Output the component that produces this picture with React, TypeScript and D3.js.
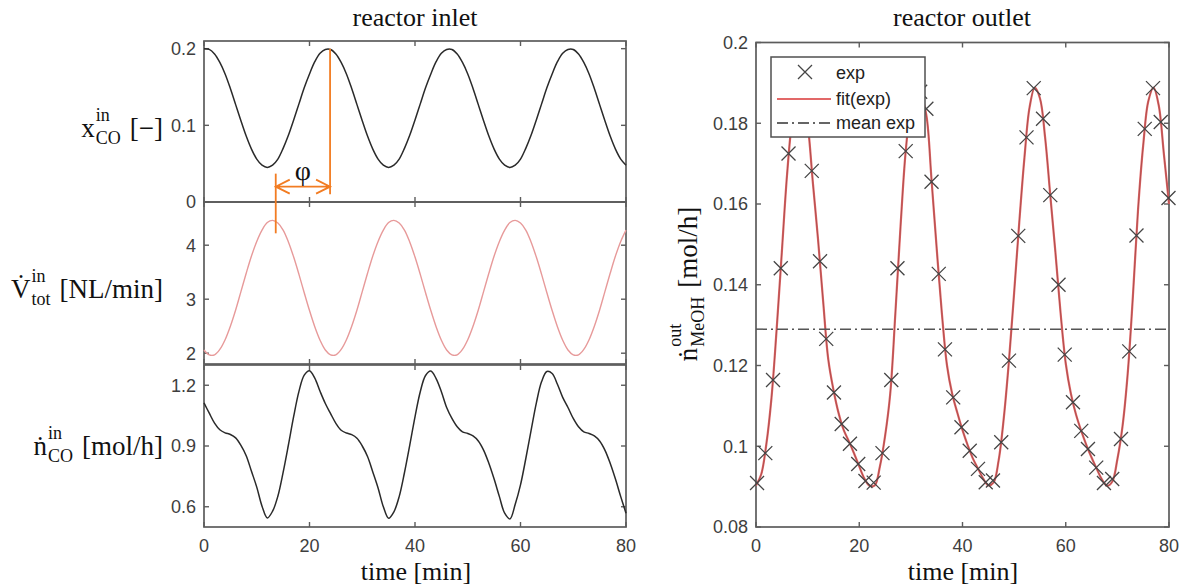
import { useEffect, useRef } from "react";
import * as d3 from "d3";

// sample grid of the inlet signals and of the fitted outlet curve [min]
const minutes = [
  0, 1, 2, 3, 4, 5, 6, 7, 8, 9, 10, 11, 12, 13, 14, 15, 16, 17, 18, 19, 20,
  21, 22, 23, 24, 25, 26, 27, 28, 29, 30, 31, 32, 33, 34, 35, 36, 37, 38, 39, 40,
  41, 42, 43, 44, 45, 46, 47, 48, 49, 50, 51, 52, 53, 54, 55, 56, 57, 58, 59, 60,
  61, 62, 63, 64, 65, 66, 67, 68, 69, 70, 71, 72, 73, 74, 75, 76, 77, 78, 79, 80,
];

// x_CO^in [-]
const xCOin = [
  0.2, 0.199, 0.193, 0.182, 0.167, 0.148, 0.127, 0.106, 0.086, 0.069, 0.056, 0.048,
  0.045, 0.048, 0.056, 0.07, 0.087, 0.107, 0.128, 0.149, 0.167, 0.183, 0.194, 0.199,
  0.199, 0.193, 0.182, 0.167, 0.148, 0.127, 0.106, 0.086, 0.069, 0.056, 0.048, 0.045,
  0.048, 0.056, 0.07, 0.087, 0.107, 0.128, 0.149, 0.167, 0.183, 0.194, 0.199,
  0.199, 0.193, 0.182, 0.167, 0.148, 0.127, 0.106, 0.086, 0.069, 0.056, 0.048, 0.045,
  0.048, 0.056, 0.07, 0.087, 0.107, 0.128, 0.149, 0.167, 0.183, 0.194, 0.199,
  0.199, 0.193, 0.182, 0.167, 0.148, 0.127, 0.106, 0.086, 0.069, 0.056, 0.048,
];

// V_tot^in [NL/min]
const vTotIn = [
  2.06, 1.97,
  1.97, 2.07, 2.25, 2.5, 2.8, 3.14, 3.48, 3.8, 4.07, 4.28, 4.42, 4.46, 4.41, 4.28,
  4.06, 3.78, 3.46, 3.12, 2.79, 2.49, 2.24, 2.06, 1.97,
  1.97, 2.07, 2.25, 2.5, 2.8, 3.14, 3.48, 3.8, 4.07, 4.28, 4.42, 4.46, 4.41, 4.28,
  4.06, 3.78, 3.46, 3.12, 2.79, 2.49, 2.24, 2.06, 1.97,
  1.97, 2.07, 2.25, 2.5, 2.8, 3.14, 3.48, 3.8, 4.07, 4.28, 4.42, 4.46, 4.41, 4.28,
  4.06, 3.78, 3.46, 3.12, 2.79, 2.49, 2.24, 2.06, 1.97,
  1.97, 2.07, 2.25, 2.5, 2.8, 3.14, 3.48, 3.8, 4.07, 4.28,
];

// n_CO^in [mol/h]
const nCOin = [
  1.113, 1.062, 1.013, 0.98, 0.965, 0.957, 0.94, 0.903, 0.852, 0.775, 0.697, 0.603,
  0.545, 0.578, 0.652, 0.77, 0.905, 1.046, 1.17, 1.25, 1.272, 1.235, 1.17,
  1.11, 1.06, 1.012, 0.978, 0.964, 0.956, 0.938, 0.9, 0.848, 0.772, 0.693, 0.6,
  0.543, 0.575, 0.65, 0.768, 0.903, 1.044, 1.168, 1.248, 1.27, 1.233, 1.168,
  1.09, 1.036, 0.995, 0.97, 0.962, 0.95, 0.925, 0.88, 0.815, 0.737, 0.65, 0.568,
  0.54, 0.612, 0.708, 0.837, 0.976, 1.112, 1.218, 1.268, 1.258, 1.205, 1.14,
  1.09, 1.036, 0.995, 0.97, 0.962, 0.95, 0.925, 0.88, 0.815, 0.737, 0.65, 0.568,
];

// fit(exp), n_MeOH^out [mol/h]
const fitOut = [
  0.0903, 0.093, 0.1005, 0.112, 0.129, 0.148, 0.167, 0.1808, 0.188, 0.1878, 0.18,
  0.1655, 0.1515, 0.136, 0.1215, 0.114, 0.1082, 0.104, 0.1012, 0.0982, 0.095, 0.092,
  0.0902,
  0.0903, 0.095, 0.1025, 0.113, 0.133, 0.1545, 0.1731, 0.184, 0.1886, 0.1868, 0.182,
  0.166, 0.149, 0.133, 0.12, 0.113, 0.1083, 0.104, 0.1003, 0.097, 0.0945, 0.092,
  0.0903,
  0.091, 0.0965, 0.107, 0.1212, 0.138, 0.1555, 0.1715, 0.184, 0.1888, 0.1862, 0.1765,
  0.1622, 0.148, 0.133, 0.1205, 0.113, 0.1078, 0.1038, 0.1003, 0.0972, 0.0944, 0.0918,
  0.0902,
  0.0912, 0.0968, 0.105, 0.118, 0.137, 0.1585, 0.1745, 0.1855, 0.1888, 0.1845, 0.1725,
  0.16,
];

// exp markers
const expTime = [
  0.2, 1.8, 3.3, 4.8, 6.3, 7.8, 9.3, 10.8, 12.4, 13.6, 15.1, 16.6, 18.2, 19.8, 21.2,
  22.8, 24.5, 26.2, 27.4, 29.0, 30.4, 31.8, 33.0, 34.0, 35.4, 36.6, 38.2, 39.8, 41.4,
  43.0, 44.5, 45.9, 47.5, 49.0, 50.8, 52.4, 53.8, 55.6, 57.0, 58.6, 59.8, 61.4, 63.0,
  64.3, 65.9, 67.4, 69.0, 70.7, 72.3, 73.7, 75.3, 76.9, 78.4, 79.9,
];
const expValue = [
  0.0909, 0.0983, 0.1164, 0.1441, 0.1725, 0.1868, 0.1872, 0.1682, 0.1458, 0.1266,
  0.1133, 0.1055, 0.1006, 0.0956, 0.0914, 0.091, 0.0983, 0.1164, 0.1441, 0.1731,
  0.1862, 0.1878, 0.1836, 0.1655, 0.1427, 0.124, 0.1121, 0.1047, 0.0989, 0.0944,
  0.0911, 0.0915, 0.101, 0.1212, 0.1521, 0.1765, 0.1887, 0.1811, 0.1622, 0.14,
  0.1227, 0.1109, 0.1038, 0.0993, 0.0947, 0.0909, 0.0919, 0.1018, 0.1235, 0.1522,
  0.1786, 0.1887, 0.1803, 0.1615,
];
const meanExp = 0.129;

// phase shift annotation (times in min)
const phiFrom = 13.6;
const phiTo = 23.9;

const timeTicks = [0, 20, 40, 60, 80];
const xcoTicks = [0, 0.1, 0.2];
const vTicks = [2, 3, 4];
const nTicks = [0.6, 0.9, 1.2];
const outTicks = [0.08, 0.1, 0.12, 0.14, 0.16, 0.18, 0.2];

const SERIF = "'Liberation Serif', 'Times New Roman', serif";
const SANS = "'Liberation Sans', Arial, sans-serif";
const AXIS = "#5c5c5c";
const TICKTXT = "#3e3e3e";
const ORANGE = "#f27c22";
const FITRED = "#e26868";

const App = () => {
  const ref = useRef<SVGSVGElement>(null);

  useEffect(() => {
    const svg = d3.select(ref.current);
    svg.selectAll("*").remove();

    // scales
    const xl = d3.scaleLinear([0, 80], [204, 626]);
    const y1 = d3.scaleLinear([0, 0.21], [202, 41]);
    const y2 = d3.scaleLinear([1.8, 4.8], [364, 202]);
    const y3 = d3.scaleLinear([0.5, 1.3], [527, 365]);
    const xr = d3.scaleLinear([0, 80], [756, 1169]);
    const yr = d3.scaleLinear([0.08, 0.2], [527, 42.5]);

    const frame = (x: any, y: any, yTicks: number[], xLabels: boolean) => {
      const [x0, x1] = x.range();
      const [yb, yt] = y.range();
      const g = svg.append("g");
      g.append("rect")
        .attr("x", x0).attr("y", yt)
        .attr("width", x1 - x0).attr("height", yb - yt)
        .attr("fill", "none").attr("stroke", AXIS).attr("stroke-width", 1.7);
      timeTicks.forEach((t) => {
        g.append("line").attr("x1", x(t)).attr("x2", x(t)).attr("y1", yb).attr("y2", yb - 5)
          .attr("stroke", AXIS).attr("stroke-width", 1.4);
        g.append("line").attr("x1", x(t)).attr("x2", x(t)).attr("y1", yt).attr("y2", yt + 5)
          .attr("stroke", AXIS).attr("stroke-width", 1.4);
        if (xLabels)
          g.append("text").attr("x", x(t)).attr("y", yb + 25)
            .attr("text-anchor", "middle").attr("font-family", SANS).attr("font-size", 18)
            .attr("fill", TICKTXT).text(String(t));
      });
      yTicks.forEach((v) => {
        g.append("line").attr("x1", x0).attr("x2", x0 + 5).attr("y1", y(v)).attr("y2", y(v))
          .attr("stroke", AXIS).attr("stroke-width", 1.4);
        g.append("line").attr("x1", x1).attr("x2", x1 - 5).attr("y1", y(v)).attr("y2", y(v))
          .attr("stroke", AXIS).attr("stroke-width", 1.4);
        g.append("text").attr("x", x0 - 8).attr("y", y(v)).attr("dy", "0.36em")
          .attr("text-anchor", "end").attr("font-family", SANS).attr("font-size", 18)
          .attr("fill", TICKTXT).text(String(v));
      });
    };

    const curve = (x: any, y: any, ts: number[], vs: number[], color: string, w: number) => {
      const line = d3.line<number>()
        .x((_, i) => x(ts[i]))
        .y((d) => y(d))
        .curve(d3.curveCatmullRom);
      svg.append("path").attr("d", line(vs)).attr("fill", "none")
        .attr("stroke", color).attr("stroke-width", w).attr("stroke-linejoin", "round");
    };

    const mathLabel = (base: string, sup: string, sub: string, rest: string, place: (w: number) => string) => {
      const g = svg.append("g").attr("font-family", SERIF).attr("fill", "#111");
      const b = g.append("text").attr("font-size", 27).text(base);
      const wb = (b.node() as SVGTextElement).getComputedTextLength();
      const sp = g.append("text").attr("font-size", 18).attr("x", wb + 1).attr("y", -16).text(sup);
      const sb = g.append("text").attr("font-size", 18).attr("x", wb + 1).attr("y", 7).text(sub);
      const ws = Math.max(
        (sp.node() as SVGTextElement).getComputedTextLength(),
        (sb.node() as SVGTextElement).getComputedTextLength()
      );
      const rx = wb + 1 + ws + 9;
      const r = g.append("text").attr("font-size", 27).attr("x", rx).text(rest);
      const total = rx + (r.node() as SVGTextElement).getComputedTextLength();
      g.attr("transform", place(total));
    };

    // ---- left: reactor inlet ----
    frame(xl, y1, xcoTicks, false);
    frame(xl, y2, vTicks, false);
    frame(xl, y3, nTicks, true);

    curve(xl, y1, minutes, xCOin, "#2a2a2a", 1.5);
    curve(xl, y2, minutes, vTotIn, "#e79a9a", 1.4);
    curve(xl, y3, minutes, nCOin, "#2a2a2a", 1.5);

    // phase shift marks
    const ax = xl(phiFrom);
    const bx = xl(phiTo);
    const ay = y1(0.02);
    svg.append("line").attr("x1", bx).attr("x2", bx).attr("y1", y1(0.2)).attr("y2", y1(0.01))
      .attr("stroke", ORANGE).attr("stroke-width", 1.8);
    svg.append("line").attr("x1", ax).attr("x2", ax).attr("y1", y1(0.037)).attr("y2", y2(4.22))
      .attr("stroke", ORANGE).attr("stroke-width", 1.8);
    svg.append("path")
      .attr("d", `M${ax},${ay}H${bx}M${ax + 14},${ay - 7}L${ax},${ay}L${ax + 14},${ay + 7}` +
        `M${bx - 14},${ay - 7}L${bx},${ay}L${bx - 14},${ay + 7}`)
      .attr("fill", "none").attr("stroke", ORANGE).attr("stroke-width", 1.8);
    svg.append("text").attr("x", (ax + bx) / 2).attr("y", ay - 7).attr("text-anchor", "middle")
      .attr("font-family", SERIF).attr("font-size", 28).attr("fill", "#111").text("φ");

    mathLabel("x", "in", "CO", "[−]", (w) => `translate(${163 - w},137)`);
    mathLabel("V\u0307", "in", "tot", "[NL/min]", (w) => `translate(${163 - w},298)`);
    mathLabel("n\u0307", "in", "CO", "[mol/h]", (w) => `translate(${163 - w},455)`);

    svg.append("text").attr("x", 415).attr("y", 26).attr("text-anchor", "middle")
      .attr("font-family", SERIF).attr("font-size", 26).attr("fill", "#111").text("reactor inlet");
    svg.append("text").attr("x", 416).attr("y", 580).attr("text-anchor", "middle")
      .attr("font-family", SERIF).attr("font-size", 26).attr("fill", "#111").text("time [min]");

    // ---- right: reactor outlet ----
    frame(xr, yr, outTicks, true);

    const fitPath = d3.line<number>()
      .x((_, i) => xr(minutes[i]))
      .y((d) => yr(d))
      .curve(d3.curveCatmullRom)(fitOut);
    svg.append("path").attr("d", fitPath).attr("fill", "none")
      .attr("stroke", FITRED).attr("stroke-width", 2.2);
    svg.append("path").attr("d", fitPath).attr("fill", "none")
      .attr("stroke", "#7a3434").attr("stroke-width", 0.5);

    svg.append("line").attr("x1", xr(0)).attr("x2", xr(80)).attr("y1", yr(meanExp)).attr("y2", yr(meanExp))
      .attr("stroke", "#555").attr("stroke-width", 1.5).attr("stroke-dasharray", "11,4,2,4");

    const cross = "M-7,-7L7,7M-7,7L7,-7";
    svg.append("g").selectAll("path").data(expValue).join("path")
      .attr("transform", (d, i) => `translate(${xr(expTime[i])},${yr(d)})`)
      .attr("d", cross).attr("fill", "none").attr("stroke", "#454545").attr("stroke-width", 1.3);

    // legend
    const lg = svg.append("g").attr("font-family", SANS).attr("font-size", 18).attr("fill", "#222");
    lg.append("rect").attr("x", 771).attr("y", 57).attr("width", 154).attr("height", 80)
      .attr("fill", "#fff").attr("stroke", "#505050").attr("stroke-width", 1.5);
    lg.append("path").attr("transform", "translate(805,72)").attr("d", cross)
      .attr("fill", "none").attr("stroke", "#454545").attr("stroke-width", 1.3);
    lg.append("text").attr("x", 836).attr("y", 79).text("exp");
    lg.append("line").attr("x1", 777).attr("x2", 831).attr("y1", 99).attr("y2", 99)
      .attr("stroke", FITRED).attr("stroke-width", 2);
    lg.append("text").attr("x", 836).attr("y", 105).text("fit(exp)");
    lg.append("line").attr("x1", 777).attr("x2", 831).attr("y1", 123).attr("y2", 123)
      .attr("stroke", "#333").attr("stroke-width", 1.3).attr("stroke-dasharray", "11,4,2,4");
    lg.append("text").attr("x", 836).attr("y", 129).text("mean exp");

    mathLabel("n\u0307", "out", "MeOH", "[mol/h]", (w) => `translate(697,284) rotate(-90) translate(${-w / 2},0)`);

    svg.append("text").attr("x", 962).attr("y", 26).attr("text-anchor", "middle")
      .attr("font-family", SERIF).attr("font-size", 26).attr("fill", "#111").text("reactor outlet");
    svg.append("text").attr("x", 963).attr("y", 580).attr("text-anchor", "middle")
      .attr("font-family", SERIF).attr("font-size", 26).attr("fill", "#111").text("time [min]");
  }, []);

  return (
    <svg
      ref={ref}
      width={1193}
      height={585}
      style={{ position: "absolute", left: 0, top: 0, background: "#fff" }}
    />
  );
};

export default App;
